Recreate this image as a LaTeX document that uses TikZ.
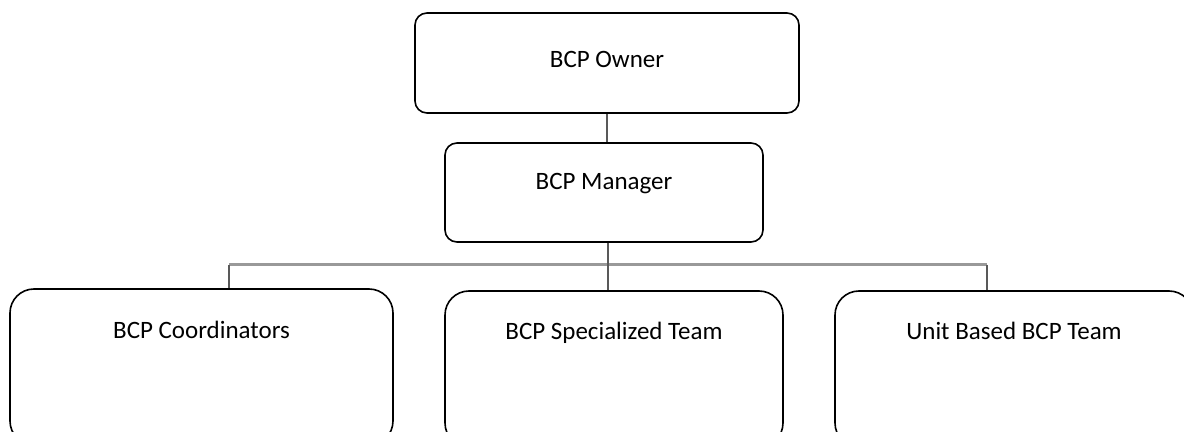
\documentclass[tikz,border=0pt]{standalone}
\usepackage{fontspec}
\setmainfont{Carlito}
\begin{document}
\begin{tikzpicture}[x=0.5pt,y=-0.5pt,
  box/.style={draw=black, line width=0.8pt, fill=white, inner sep=0pt},
  topbox/.style={box, rounded corners=6pt},
  lowbox/.style={box, rounded corners=12pt, minimum height=78pt},
  lbl/.style={font=\fontsize{12.5}{15}\selectfont, anchor=center, inner sep=0pt, text height=8pt, text depth=0pt},
  conn/.style={draw=black!65, line width=1pt},
  bus/.style={draw=black!40, line width=1.5pt}]
\useasboundingbox (0,0) rectangle (1184,432);
\clip (0,0) rectangle (1184,432);
% boxes
\node[topbox, minimum width=192pt, minimum height=50pt,
      label={[lbl, yshift=-23.5pt]north:BCP Owner}] (owner) at (607,63) {};
\node[topbox, minimum width=159pt, minimum height=49.5pt,
      label={[lbl, yshift=-19.5pt]north:BCP Manager}] (manager) at (604,192.5) {};
\node[lowbox, minimum width=191.5pt,
      label={[lbl, yshift=-21pt]north:BCP Coordinators}] (coord) at (201.5,367) {};
\node[lowbox, minimum width=169pt,
      label={[lbl, yshift=-20.5pt]north:BCP Specialized Team}] (spec) at (614,369) {};
\node[lowbox, minimum width=179pt,
      label={[lbl, yshift=-20.5pt]north:Unit Based BCP Team}] (unit) at (1014,369) {};
% connectors
\coordinate (bl) at (229,265);
\coordinate (br) at (987,265);
\draw[conn] (owner.south) -- (owner.south |- manager.north);
\draw[bus] (bl) -- (br);
\draw[conn] ([xshift=2pt]manager.south) -- ([xshift=2pt]manager.south |- spec.north);
\draw[conn] (bl) -- (bl |- coord.north);
\draw[conn] (br) -- (br |- unit.north);
\end{tikzpicture}
\end{document}
